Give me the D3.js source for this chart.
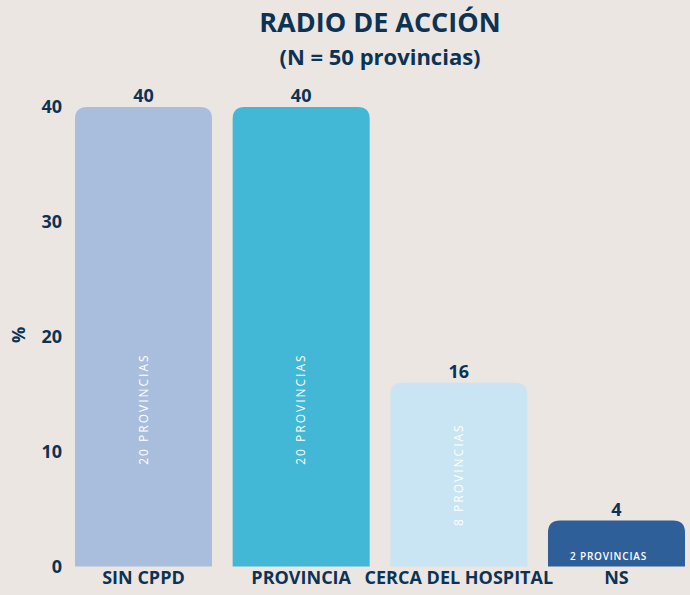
<!DOCTYPE html>
<html>
<head>
<meta charset="utf-8">
<script src="https://cdn.jsdelivr.net/npm/d3@7"></script>
<style>
  body { margin: 0; background: #ebe6e1; }
  svg { display: block; font-family: "Open Sans", sans-serif; }
</style>
</head>
<body>
<svg id="chart" width="690" height="595"></svg>
<script>
// data
var categories = ["SIN CPPD", "PROVINCIA", "CERCA DEL HOSPITAL", "NS"];
var values = [40, 40, 16, 4];
var innerLabels = ["20 PROVINCIAS", "20 PROVINCIAS", "8 PROVINCIAS", "2 PROVINCIAS"];
var yTicks = [0, 10, 20, 30, 40];
var barColors = ["#a9bedd", "#42b7d6", "#c9e4f2", "#2e5f98"];

var ink = "#0c3354";
var svg = d3.select("#chart");

var dataSet = categories.map(function(c, i){
	return {cat: c, value: values[i], label: innerLabels[i], color: barColors[i]};
});

var xScale = d3.scaleBand()
				.domain(categories)
				.range([75, 685])
				.paddingInner(0.131)
				.paddingOuter(0);
var yScale = d3.scaleLinear()
				.domain([0, 40])
				.range([566.5, 107]);

// title
svg.append("text")
	.attr("x", 380).attr("y", 32)
	.attr("text-anchor", "middle")
	.attr("font-size", 27).attr("font-weight", 700)
	.attr("fill", ink)
	.text("RADIO DE ACCIÓN");
svg.append("text")
	.attr("x", 380).attr("y", 65)
	.attr("text-anchor", "middle")
	.attr("font-size", 22).attr("font-weight", 700)
	.attr("fill", ink)
	.text("(N = 50 provincias)");

// bars with rounded top corners
function barPath(d){
	var x0 = xScale(d.cat), x1 = x0 + xScale.bandwidth();
	var y0 = yScale(0), y1 = yScale(d.value);
	var r = Math.min(12, (y0 - y1) / 2);
	return "M" + x0 + "," + y0 +
		"V" + (y1 + r) +
		"Q" + x0 + "," + y1 + " " + (x0 + r) + "," + y1 +
		"H" + (x1 - r) +
		"Q" + x1 + "," + y1 + " " + x1 + "," + (y1 + r) +
		"V" + y0 + "Z";
}

svg.selectAll("path.bar")
	.data(dataSet)
	.enter().append("path")
	.attr("class", "bar")
	.attr("d", barPath)
	.attr("fill", function(d){ return d.color; });

// value labels
svg.selectAll("text.val")
	.data(dataSet)
	.enter().append("text")
	.attr("class", "val")
	.attr("x", function(d){ return xScale(d.cat) + xScale.bandwidth() / 2; })
	.attr("y", function(d){ return yScale(d.value) - 5; })
	.attr("text-anchor", "middle")
	.attr("font-size", 18).attr("font-weight", 700)
	.attr("fill", ink)
	.text(function(d){ return d.value; });

// inner labels: rotated in tall bars, flat in the short one
svg.selectAll("text.inner")
	.data(dataSet.filter(function(d){ return d.value > 10; }))
	.enter().append("text")
	.attr("class", "inner")
	.attr("transform", function(d){
		var cx = xScale(d.cat) + xScale.bandwidth() / 2;
		var cy = yScale(Math.min(d.value / 2, 13.7));
		return "translate(" + (cx + 4) + "," + cy + ") rotate(-90)";
	})
	.attr("text-anchor", "middle")
	.attr("font-size", 12).attr("font-weight", 500)
	.attr("letter-spacing", 2)
	.attr("fill", "#ffffff")
	.text(function(d){ return d.label; });

svg.selectAll("text.innerFlat")
	.data(dataSet.filter(function(d){ return d.value <= 10; }))
	.enter().append("text")
	.attr("class", "innerFlat")
	.attr("x", function(d){ return xScale(d.cat) + xScale.bandwidth() / 2 - 8; })
	.attr("y", yScale(0) - 7)
	.attr("text-anchor", "middle")
	.attr("font-size", 10).attr("font-weight", 600)
	.attr("letter-spacing", 0.8)
	.attr("fill", "#ffffff")
	.text(function(d){ return d.label; });

// y axis
var yAxis = svg.append("g")
	.attr("transform", "translate(62,0)")
	.call(d3.axisLeft(yScale).tickValues(yTicks).tickSize(0).tickPadding(0));
yAxis.select(".domain").remove();
yAxis.selectAll("text")
	.attr("font-family", "Open Sans, sans-serif")
	.attr("font-size", 18).attr("font-weight", 700)
	.attr("fill", ink);

svg.append("text")
	.attr("transform", "translate(25,335) rotate(-90)")
	.attr("text-anchor", "middle")
	.attr("font-size", 18).attr("font-weight", 700)
	.attr("fill", ink)
	.text("%");

// x axis
var xAxis = svg.append("g")
	.attr("transform", "translate(0," + yScale(0) + ")")
	.call(d3.axisBottom(xScale).tickSize(0).tickPadding(5));
xAxis.select(".domain").remove();
xAxis.selectAll("text")
	.attr("font-family", "Open Sans, sans-serif")
	.attr("font-size", 18).attr("font-weight", 700)
	.attr("fill", ink);
</script>
</body>
</html>
